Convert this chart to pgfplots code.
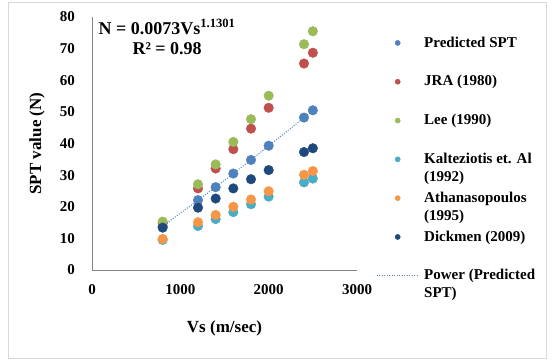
\documentclass[border=0pt]{standalone}
\usepackage{fontspec}
\setmainfont{Liberation Serif}
\usepackage{pgfplots}
\pgfplotsset{compat=1.18}
\definecolor{cPred}{HTML}{4F81BD}
\definecolor{cJRA}{HTML}{C0504D}
\definecolor{cLee}{HTML}{9BBB59}
\definecolor{cKal}{HTML}{4BACC6}
\definecolor{cAth}{HTML}{F79646}
\definecolor{cDic}{HTML}{1F497D}
\newcommand{\LE}[2]{\raisebox{23.4pt}{\rule{0pt}{33.4pt}\parbox[t]{125pt}{\raggedright\strut #1\par\strut #2}}}

\pgfplotstableread{
x pred jra lee kal ath dic
800 13.9 14.8 15.3 9.5 9.8 13.4
1200 22.1 25.8 27.1 13.9 15.1 19.7
1400 26.2 32.1 33.4 16.1 17.4 22.6
1600 30.5 38.2 40.5 18.3 20.0 25.8
1800 34.8 44.7 47.7 20.8 22.3 28.7
2000 39.3 51.3 55.1 23.2 24.9 31.6
2400 48.2 65.3 71.4 27.7 30.1 37.3
2500 50.5 68.7 75.5 28.9 31.3 38.5
}\spt

\pgfplotstableread{
x y
800 13.9
1000 17.95
1200 22.1
1400 26.2
1600 30.5
1800 34.8
2000 39.3
2200 43.7
2400 48.2
2500 50.5
}\trend

\begin{document}
\begin{tikzpicture}
\useasboundingbox (0pt,0pt) rectangle (552pt,362pt);
\draw[draw=black!15, line width=1pt] (8pt,4pt) rectangle (546pt,359pt);
\begin{axis}[
  at={(92pt,92pt)}, anchor=south west,
  scale only axis, width=265pt, height=253pt,
  xmin=0, xmax=3000, ymin=0, ymax=80,
  xtick={0,1000,2000,3000}, ytick={0,10,...,80},
  axis lines=left, axis line style={-, draw=black!48, line width=1pt},
  major tick length=0pt,
  /pgf/number format/assume math mode=true,
  /pgf/number format/1000 sep={},
  tick label style={font=\fontsize{15}{18}\selectfont\bfseries},
  xticklabel style={anchor=center, inner sep=0pt, yshift=-20pt},
  yticklabel style={anchor=east, inner sep=0pt, xshift=-17pt},
  xlabel={Vs (m/sec)}, ylabel={SPT value (N)},
  label style={font=\fontsize{17}{20}\selectfont\bfseries},
  xlabel style={at={(axis description cs:0.5,-0.229)}, anchor=center},
  ylabel style={at={(axis description cs:-0.2075,0.5)}, anchor=center},
  clip=false,
  legend image code/.code={\draw[mark repeat=2,mark phase=2,#1] plot coordinates {(0pt,0pt) (21pt,0pt) (42pt,0pt)}; \path (0pt,-3pt) (42pt,3pt);},
  legend image post style={mark size=2.6pt},
  legend style={draw=none, fill=none, inner sep=0pt,
    at={(rel axis cs:1.0717,1.0214)}, anchor=north west,
    row sep=-23.5pt, column sep=3pt,
    font=\fontsize{15}{18}\selectfont\bfseries, cells={anchor=center, inner sep=0pt}},
]
\addplot[only marks, mark=*, mark size=4.8pt, color=cPred] table[x=x,y=pred] {\spt};
\addlegendentry{\LE{Predicted SPT}{}}
\addplot[only marks, mark=*, mark size=4.8pt, color=cJRA] table[x=x,y=jra] {\spt};
\addlegendentry{\LE{JRA (1980)}{}}
\addplot[only marks, mark=*, mark size=4.8pt, color=cLee] table[x=x,y=lee] {\spt};
\addlegendentry{\LE{Lee (1990)}{}}
\addplot[only marks, mark=*, mark size=4.8pt, color=cKal] table[x=x,y=kal] {\spt};
\addlegendentry{\LE{Kalteziotis et. Al}{(1992)}}
\addplot[only marks, mark=*, mark size=4.8pt, color=cAth] table[x=x,y=ath] {\spt};
\addlegendentry{\LE{Athanasopoulos}{(1995)}}
\addplot[only marks, mark=*, mark size=4.8pt, color=cDic] table[x=x,y=dic] {\spt};
\addlegendentry{\LE{Dickmen (2009)}{}}
\addplot[sharp plot, no marks, color=cPred, line width=1pt, dash pattern=on 1pt off 1.5pt] table[x=x,y=y] {\trend};
\addlegendentry{\LE{Power (Predicted}{SPT)}}
\node[align=center, font=\fontsize{18}{20}\selectfont\bfseries] at (axis cs:850,73.7) {N = 0.0073Vs\textsuperscript{1.1301}\\R² = 0.98};
\end{axis}
\end{tikzpicture}
\end{document}
